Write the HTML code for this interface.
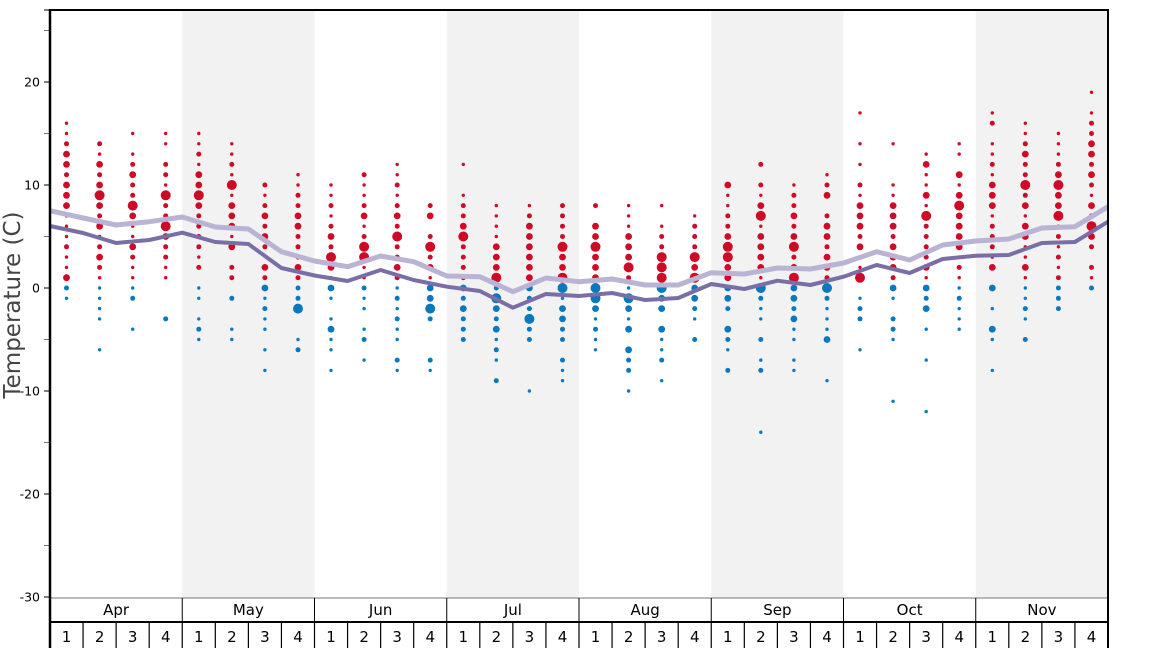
<!DOCTYPE html>
<html><head><meta charset="utf-8"><style>
html,body{margin:0;padding:0;background:#fff;}
svg{display:block;font-family:"DejaVu Sans","Liberation Sans",sans-serif;}
</style></head><body>
<svg id="c" width="1168" height="648" viewBox="0 0 1168 648" xmlns="http://www.w3.org/2000/svg">
<rect x="0" y="0" width="1168" height="648" fill="#fff"/>
<text x="20" y="305" font-size="23" fill="#444" text-anchor="middle" transform="rotate(-90 20 305)">Temperature (C)</text>
</svg>
<script>
var NS="http://www.w3.org/2000/svg",svg=document.getElementById('c');
function el(t,a,txt){var e=document.createElementNS(NS,t);for(var k in a)e.setAttribute(k,a[k]);if(txt!=null)e.textContent=txt;svg.appendChild(e);return e;}
var X0=50,X1=1108,W=(X1-X0)/32,MW=W*4;
function Y(t){return 288-10.3*t;}
// bands
[1,3,5,7].forEach(function(m){el('rect',{x:X0+m*MW,y:10,width:MW,height:588,fill:'#f2f2f2'});});
// data
var D=[
"16:1,15:1,14:2,13:3,12:3,11:2,10:3,9:3,8:3,7:1,6:1,5:1,4:2,3:1,2:1,1:3,0:2,-1:1",
"14:2,13:1,12:3,11:2,10:3,9:4,8:3,7:2,6:3,5:1,4:2,3:3,2:2,1:1,0:1,-1:1,-2:1,-3:1,-6:1",
"15:1,13:1,12:2,11:3,10:2,9:2,8:4,7:3,6:1,5:1,4:3,3:2,2:1,1:1,0:1,-1:2,-4:1",
"15:1,14:1,12:2,11:2,10:1,9:4,8:2,7:2,6:4,5:3,4:2,3:2,2:1,1:1,-3:2",
"15:1,14:1,13:2,12:1,11:3,10:3,9:4,8:3,7:2,6:2,5:2,4:2,3:1,2:2,0:1,-1:1,-3:1,-4:2,-5:1",
"14:1,13:1,12:2,11:1,10:4,9:1,8:3,7:3,6:3,5:1,4:3,2:2,1:2,-1:2,-4:1,-5:1",
"10:2,9:1,8:2,7:3,6:2,5:3,4:2,2:3,1:2,0:3,-1:1,-2:2,-3:1,-4:1,-6:1,-8:1",
"11:1,10:1,9:2,8:2,7:3,6:3,5:2,4:2,3:2,2:3,1:2,0:2,-1:2,-2:4,-5:1,-6:2",
"10:1,9:1,8:2,7:1,6:2,5:3,4:2,3:4,2:3,1:1,0:3,-1:1,-3:1,-4:3,-5:1,-6:1,-8:1",
"11:2,10:1,9:1,8:2,7:3,6:1,5:2,4:4,3:4,2:1,1:1,0:2,-1:1,-2:1,-4:1,-5:2,-7:1",
"12:1,11:1,10:2,9:1,8:2,7:3,6:2,5:4,4:2,3:2,2:3,1:2,0:1,-1:2,-2:1,-3:2,-4:1,-5:1,-7:2,-8:1",
"8:2,7:3,5:2,4:4,3:2,2:3,1:1,0:3,-1:3,-2:4,-3:2,-7:2,-8:1",
"12:1,9:1,8:2,7:2,6:3,5:4,4:2,3:2,2:2,1:2,0:3,-1:2,-2:3,-3:2,-4:2,-5:2",
"8:1,7:1,6:1,5:1,4:3,3:3,2:3,1:4,0:2,-1:4,-2:3,-3:2,-4:3,-5:1,-6:2,-7:1,-9:2",
"8:1,7:2,6:3,5:3,4:3,3:3,2:3,1:3,0:3,-1:2,-2:2,-3:4,-4:2,-5:2,-10:1",
"8:2,7:2,6:2,5:2,4:4,3:3,2:3,1:4,0:4,-1:1,-2:3,-3:3,-4:2,-5:2,-7:2,-8:1,-9:1",
"8:2,6:3,5:3,4:4,3:3,2:3,1:3,0:4,-1:4,-2:3,-3:1,-4:2,-5:1,-6:1",
"8:1,7:1,6:1,5:3,4:3,3:3,2:4,1:2,0:1,-1:4,-2:3,-3:1,-4:3,-6:3,-7:2,-8:2,-10:1",
"8:1,6:1,5:2,4:2,3:4,2:4,1:4,0:4,-1:3,-2:3,-4:3,-5:1,-6:1,-7:2,-9:1",
"7:1,6:2,5:2,4:2,3:4,2:3,1:4,0:3,-1:3,-2:2,-3:1,-5:2",
"10:3,9:1,8:1,7:2,6:2,5:3,4:4,3:4,2:3,1:3,0:3,-1:3,-2:2,-4:3,-5:2,-6:1,-8:2",
"12:2,10:2,9:1,8:3,7:4,6:1,5:3,4:3,3:3,2:3,1:1,0:4,-1:2,-2:1,-3:1,-5:2,-7:1,-8:2,-14:1",
"10:1,9:2,8:2,7:3,6:2,5:3,4:4,3:2,2:3,1:4,0:3,-1:3,-2:2,-3:3,-4:1,-5:1,-7:1,-8:1",
"11:1,10:2,9:3,7:2,6:3,5:3,4:2,3:3,2:3,1:2,0:4,-1:2,-2:1,-3:1,-4:1,-5:3,-9:1",
"17:1,14:1,12:1,10:2,9:1,8:3,7:3,6:3,5:2,4:3,3:1,2:1,1:4,-1:1,-2:2,-3:2,-6:1",
"14:1,10:1,9:1,8:3,7:3,6:3,5:2,4:3,3:3,2:3,1:2,0:3,-1:1,-3:2,-4:2,-5:1,-11:1",
"13:1,12:3,11:1,10:1,9:3,8:1,7:4,6:2,5:2,4:2,3:2,2:3,1:1,0:3,-1:2,-2:3,-4:1,-7:1,-12:1",
"14:1,13:1,11:3,10:1,9:3,8:4,7:3,6:3,5:3,4:3,3:1,2:2,1:1,0:1,-1:2,-2:1,-3:1,-4:1",
"17:1,16:2,14:1,13:1,12:2,11:1,10:3,9:3,8:3,7:1,6:2,5:2,4:2,3:1,2:3,0:3,-2:1,-4:3,-5:1,-8:1",
"16:1,15:1,14:2,13:3,12:2,11:2,10:4,9:2,8:3,7:1,6:3,5:3,4:1,3:1,2:3,1:1,0:1,-1:1,-2:2,-3:1,-5:2",
"15:1,14:1,13:1,12:2,11:3,10:4,9:3,8:3,7:4,6:1,5:2,4:1,3:2,2:1,1:2,0:2,-1:2,-2:2",
"19:1,17:1,16:2,15:2,14:3,13:3,12:2,11:3,10:2,9:1,8:3,7:2,6:4,5:3,4:2,2:2,1:1,0:2"
];
var R={1:1.7,2:2.5,3:3.4,4:5};
D.forEach(function(s,i){var cx=X0+W*(i+0.5);s.split(',').forEach(function(p){var a=p.split(':'),t=+a[0],z=+a[1];
el('circle',{cx:cx.toFixed(1),cy:Y(t).toFixed(1),r:R[z],fill:t>0?'#cf0a26':'#0a78bd'});});});
// lines
var L=[210.7,218,225,221.7,217,227,229,251.7,261,266.7,256,261.7,276,276.7,291.7,278,281.7,279,285,285,272.7,274,268,269,263,251.7,260,245,241,239,228,226.7,206.7];
var Dk=[226,233,243,240,232.7,242,244,268,275.5,281,270,280,286.7,291,307.7,294,296,293,300,298,284,289,280.7,285,276.7,265,273,259,255.7,255,243,242,221.7];
function pts(a){return a.map(function(y,k){return (X0+W*k).toFixed(1)+','+y;}).join(' ');}
el('polyline',{points:pts(L),fill:'none',stroke:'#b9b4d4','stroke-width':5,'stroke-linejoin':'round'});
el('polyline',{points:pts(Dk),fill:'none',stroke:'#7a6ea6','stroke-width':4,'stroke-linejoin':'round'});
// y axis ticks
for(var t=-30;t<=25;t+=5){var y=Y(t),maj=t%10==0;
el('line',{x1:44,x2:50,y1:y,y2:y,stroke:maj?'#000':'#777','stroke-width':1});
if(maj)el('text',{x:40,y:y+4.5,'font-size':12.5,'text-anchor':'end',fill:'#000'},String(t));}
el('line',{x1:44,x2:50,y1:10,y2:10,stroke:'#000','stroke-width':1});
// bottom rows
el('rect',{x:X0,y:598,width:X1-X0,height:50,fill:'#fff'});
el('line',{x1:X0,x2:X1,y1:598,y2:598,stroke:'#777','stroke-width':1});
el('line',{x1:X0,x2:X1,y1:622,y2:622,stroke:'#000','stroke-width':2});
var M=['Apr','May','Jun','Jul','Aug','Sep','Oct','Nov'];
M.forEach(function(m,i){var x=X0+i*MW;if(i>0)el('line',{x1:x,x2:x,y1:598,y2:622,stroke:'#000','stroke-width':1});
el('text',{x:x+MW/2,y:615,'font-size':15,'text-anchor':'middle',fill:'#000'},m);});
for(var k=0;k<32;k++){var x=X0+k*W;if(k>0)el('line',{x1:x,x2:x,y1:622,y2:648,stroke:'#000','stroke-width':1.2});
el('text',{x:x+W/2,y:642,'font-size':15,'text-anchor':'middle',fill:'#000'},String(k%4+1));}
// frame
el('line',{x1:X0,x2:X1+1,y1:10,y2:10,stroke:'#000','stroke-width':2});
el('line',{x1:X0,x2:X0,y1:9,y2:648,stroke:'#000','stroke-width':2.5});
el('line',{x1:X1,x2:X1,y1:9,y2:648,stroke:'#000','stroke-width':2});
</script>
</body></html>
